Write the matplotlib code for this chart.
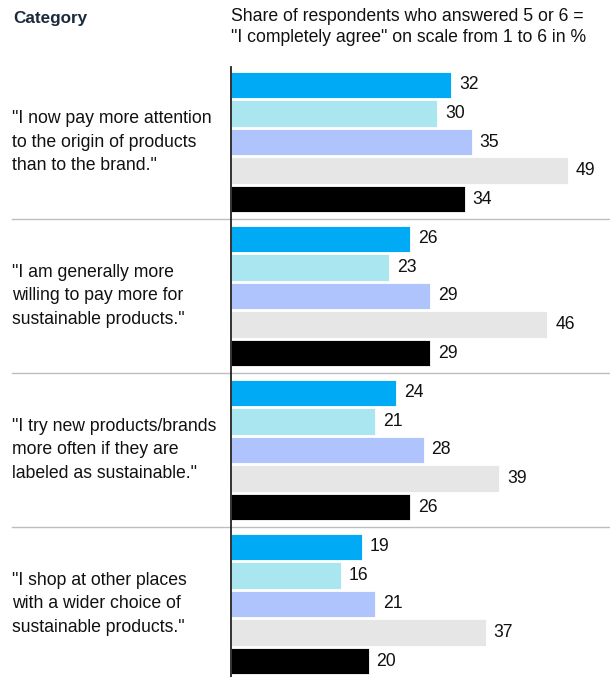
import matplotlib.pyplot as plt
from matplotlib.transforms import blended_transform_factory

plt.rcParams['font.family'] = ['Liberation Sans', 'DejaVu Sans']

categories = [
    '"I now pay more attention\nto the origin of products\nthan to the brand."',
    '"I am generally more\nwilling to pay more for\nsustainable products."',
    '"I try new products/brands\nmore often if they are\nlabeled as sustainable."',
    '"I shop at other places\nwith a wider choice of\nsustainable products."',
]
# five respondent groups per statement, top to bottom
values = [
    [32, 30, 35, 49, 34],
    [26, 23, 29, 46, 29],
    [24, 21, 28, 39, 26],
    [19, 16, 21, 37, 20],
]
colors = ['#00AAF4', '#A9E6F0', '#AFC3FC', '#E6E6E6', '#000000']

group_step = 5.4
W, H = 610, 677
fs = 12.7

fig = plt.figure(figsize=(W / 100, H / 100), dpi=100)
ax = fig.add_axes([231 / W, 0, (W - 231) / W, 610 / H])

for i, row in enumerate(values):
    for j, v in enumerate(row):
        y = i * group_step + j
        ax.barh(y, v, height=0.93, color=colors[j], edgecolor='white', linewidth=0.6)
        ax.text(v + 1.15, y, str(v), va='center', ha='left', fontsize=fs, color='#111111')

ax.set_xlim(0, 55.1)
ax.set_ylim(3 * group_step + 4 + 0.56, -0.63)
ax.set_xticks([])
ax.set_yticks([])
for side in ['top', 'right', 'bottom']:
    ax.spines[side].set_visible(False)
ax.spines['left'].set_linewidth(1.3)
ax.spines['left'].set_color('#222222')

# separators between statements, spanning the label column too
trans = blended_transform_factory(fig.transFigure, ax.transData)
for i in range(len(values) - 1):
    ys = i * group_step + 4.7
    ax.plot([12 / W, 1], [ys, ys], transform=trans, color='#BDBDBD', lw=1.0, clip_on=False)

for i, label in enumerate(categories):
    ax.text(12 / W, i * group_step + 2, label, transform=trans, ha='left', va='center',
            fontsize=fs, linespacing=1.5, color='#111111')

fig.text(13 / W, 1 - 18 / H, 'Category', fontsize=12.3, fontweight='bold', color='#1B2A3A',
         ha='left', va='center')
fig.text(231 / W, 1 - 27 / H, 'Share of respondents who answered 5 or 6 =\n'
         '"I completely agree" on scale from 1 to 6 in %', fontsize=fs, color='#111111',
         ha='left', va='center', linespacing=1.38)

fig.savefig('out.png', dpi=100)
